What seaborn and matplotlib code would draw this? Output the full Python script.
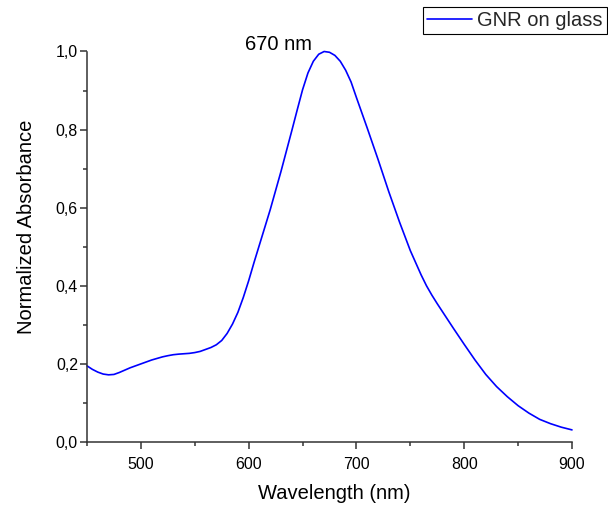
import numpy as np
import pandas as pd
import matplotlib
matplotlib.use("Agg")
import matplotlib.pyplot as plt
from matplotlib.ticker import MultipleLocator, FuncFormatter
from matplotlib.lines import Line2D
import seaborn as sns

wavelength = [450, 455, 460, 465, 470, 475, 480, 490, 500, 510, 520, 525, 530, 535, 540, 545,
              550, 555, 560, 565, 570, 575, 580, 585, 590, 595, 600, 605, 610, 620, 630, 640,
              645, 650, 655, 660, 665, 670, 675, 680, 685, 690, 695, 700, 710, 720, 730, 740,
              750, 760, 765, 770, 775, 780, 790, 800, 810, 820, 830, 840, 850, 860, 870, 880,
              890, 900]
absorbance = [0.195, 0.186, 0.179, 0.174, 0.172, 0.173, 0.178, 0.190, 0.200, 0.210, 0.218,
              0.221, 0.2235, 0.225, 0.226, 0.227, 0.229, 0.232, 0.237, 0.242, 0.249, 0.260,
              0.278, 0.302, 0.332, 0.370, 0.413, 0.460, 0.505, 0.595, 0.693, 0.797, 0.850,
              0.902, 0.945, 0.975, 0.993, 1.000, 0.998, 0.990, 0.975, 0.952, 0.922, 0.882,
              0.804, 0.724, 0.641, 0.563, 0.490, 0.428, 0.400, 0.376, 0.354, 0.333, 0.291,
              0.250, 0.210, 0.173, 0.142, 0.116, 0.093, 0.074, 0.058, 0.047, 0.038, 0.031]
series_name = "GNR on glass"
peak_label = "670 nm"
x_label = "Wavelength (nm)"
y_label = "Normalized Absorbance"

df = pd.DataFrame({"Wavelength": wavelength, "Absorbance": absorbance, "Sample": series_name})

sns.set_theme(style="ticks")
plt.rcParams["font.family"] = ["Liberation Sans", "DejaVu Sans"]

fig = plt.figure(figsize=(6.08, 5.08), dpi=100)
ax = fig.add_axes([87 / 608, (508 - 442) / 508, (572 - 87) / 608, (442 - 51.5) / 508])

sns.lineplot(data=df, x="Wavelength", y="Absorbance", hue="Sample", palette=["#0000ff"],
             linewidth=1.2, ax=ax, legend=False, clip_on=False)
for ln in ax.get_lines():
    ln.set_solid_joinstyle("round")
    ln.set_solid_capstyle("round")

ax.set_xlim(450, 900)
ax.set_ylim(0, 1.0)
sns.despine(ax=ax)
for s in ["left", "bottom"]:
    ax.spines[s].set_color("#333333")
    ax.spines[s].set_linewidth(1.1)

ax.xaxis.set_major_locator(MultipleLocator(100))
ax.xaxis.set_minor_locator(MultipleLocator(50))
ax.yaxis.set_major_locator(MultipleLocator(0.2))
ax.yaxis.set_minor_locator(MultipleLocator(0.1))
ax.yaxis.set_major_formatter(FuncFormatter(lambda v, p: f"{v:.1f}".replace(".", ",")))
ax.tick_params(which="major", direction="out", length=5, width=1.1, color="#333333",
               labelsize=11.5, labelcolor="black")
ax.tick_params(which="minor", direction="out", length=3, width=1.1, color="#333333")
ax.tick_params(axis="x", which="major", pad=6)
ax.tick_params(axis="y", which="major", pad=1.5)

ax.set_xlabel(x_label, fontsize=14.5, color="black")
ax.set_ylabel(y_label, fontsize=14.5, color="black")
ax.xaxis.set_label_coords(0.51, -0.108)
ax.yaxis.set_label_coords(-0.105, 0.55)

ax.text(659, 1.005, peak_label, ha="right", va="baseline", fontsize=14.5, color="black",
        clip_on=False)

handle = Line2D([], [], color="#0000ff", linewidth=1.2)
leg = fig.legend([handle], [series_name], loc="upper left",
                 bbox_to_anchor=(423 / 608, 1 - 7 / 508), bbox_transform=fig.transFigure,
                 fontsize=14.5, frameon=True, fancybox=False, framealpha=1,
                 edgecolor="black", borderpad=0.2, handlelength=2.23, handletextpad=0.25,
                 borderaxespad=0)
leg.get_frame().set_linewidth(0.8)

fig.savefig("out.png", dpi=100)
